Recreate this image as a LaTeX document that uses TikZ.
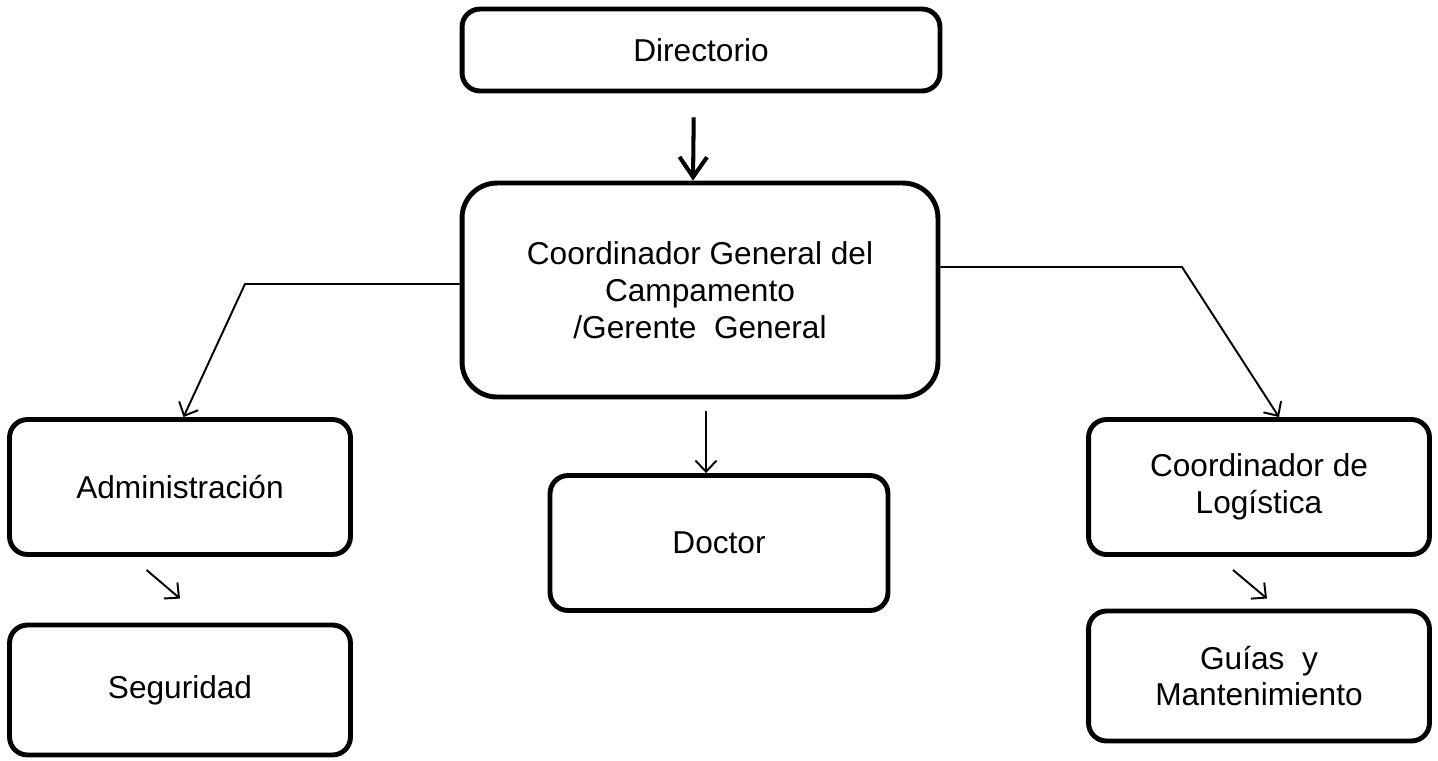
\documentclass[tikz,border=0pt]{standalone}
\usepackage{fontspec}
\setmainfont{Liberation Sans}
\usetikzlibrary{arrows.meta, positioning}

\begin{document}
\begin{tikzpicture}[
    x=0.02cm, y=-0.02cm,
    box/.style={draw=black, line width=2.8pt, rounded corners=0.36cm, align=center,
                font=\fontsize{18}{21}\selectfont, inner sep=0pt},
    bigbox/.style={box, rounded corners=0.7cm},
    link/.style={line width=1.1pt, -{Straight Barb[length=0.22cm, width=0.42cm, line width=1.1pt]}},
    mainlink/.style={line width=2.3pt, -{Straight Barb[length=0.4cm, width=0.55cm, line width=2.3pt]}}
]
   \useasboundingbox (0,0) rectangle (1438,761);

   % Boxes
   \node[box, minimum width=9.56cm, minimum height=1.64cm] (dir) at (701,50) {Directorio};
   \node[bigbox, minimum width=9.52cm, minimum height=4.28cm] (cg) at (700,290)
        {Coordinador General del\\Campamento\\/Gerente\ \ General};
   \node[box, minimum width=6.82cm, minimum height=2.7cm] (adm) at (180,487) {Administración};
   \node[box, minimum width=6.76cm, minimum height=2.7cm] (doc) at (719,543) {Doctor};
   \node[box, minimum width=6.82cm, minimum height=2.7cm] (log) at (1259,487) {Coordinador de\\Logística};
   \node[box, minimum width=6.82cm, minimum height=2.6cm] (seg) at (180,690) {Seguridad};
   \node[box, minimum width=6.82cm, minimum height=2.6cm] (gui) at (1259,676) {Guías\ \ y\\Mantenimiento};

   % Corners of the side branches
   \coordinate (lk) at (245,284);
   \coordinate (rk) at (1182,267);

   % Connectors
   \draw[mainlink, shorten <=0.48cm] ([xshift=-0.14cm]dir.south) -- ([xshift=-0.14cm]cg.north);
   \draw[link] (cg.west |- lk) -- (lk) -- ([xshift=0.07cm]adm.north);
   \draw[link] (cg.east |- rk) -- (rk) -- ([xshift=0.4cm]log.north);
   \draw[link] ([xshift=0.12cm, yshift=-0.24cm]cg.south) -- ([xshift=0.12cm]cg.south |- doc.north);
   \draw[link] ([xshift=-0.67cm, yshift=-0.26cm]adm.south) -- ([yshift=0.48cm]seg.north);
   \draw[link] ([xshift=-0.52cm, yshift=-0.26cm]log.south) -- ([xshift=0.16cm, yshift=0.2cm]gui.north);
\end{tikzpicture}
\end{document}
